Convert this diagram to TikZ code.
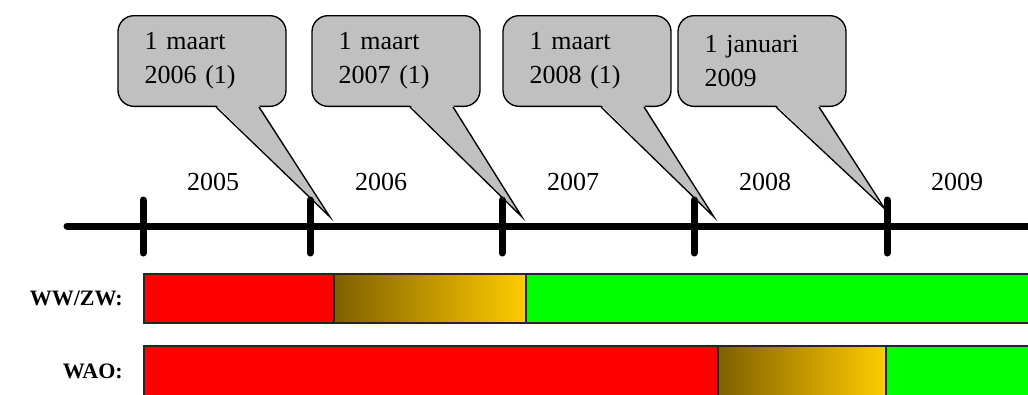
\documentclass[tikz,border=0pt]{standalone}
\usepackage{fontspec}
\setmainfont{Liberation Serif}
\usetikzlibrary{calc,positioning}

\definecolor{bubblegray}{HTML}{C0C0C0}
\definecolor{barred}{HTML}{FF0000}
\definecolor{bargreen}{HTML}{00FF00}
\definecolor{fadedark}{HTML}{7F6000}
\definecolor{fadelight}{HTML}{FFCC00}

\begin{document}
\begin{tikzpicture}[x=0.75pt,y=-0.75pt]

\tikzset{bubble/.style={fill=bubblegray,draw=black,line width=1pt,rounded corners=12pt,inner xsep=20pt,inner ysep=2pt,minimum height=68pt,text width=86pt,align=left,font=\fontsize{19.5}{25.5}\selectfont},
pointer/.style={draw=black,line width=1pt,line join=miter},
year/.style={font=\fontsize{19.5}{24}\selectfont},
rowlabel/.style={anchor=east,inner sep=0pt,font=\fontsize{16.5}{20}\selectfont\bfseries},
timeline/.style={line width=5.25pt,line cap=round},
barpart/.style={draw=black!85,line width=1.1pt}}

\useasboundingbox (0,0) rectangle (1028,394);
\clip (0,0) rectangle (1028,394);

% Callouts with dates
\node (b1) [bubble] at (202,61) {1 maart\\2006 (1)};
\coordinate (p1) at (330,217);
\fill[bubblegray] ($(b1.south)+(14,-2)$) -- (p1) -- ($(b1.south)+(57,-2)$) -- cycle;
\draw[pointer] ($(b1.south)+(14,0)$) -- (p1) -- ($(b1.south)+(57,0)$);

\node (b2) [bubble] at (396,61) {1 maart\\2007 (1)};
\coordinate (p2) at (522,217);
\fill[bubblegray] ($(b2.south)+(14,-2)$) -- (p2) -- ($(b2.south)+(57,-2)$) -- cycle;
\draw[pointer] ($(b2.south)+(14,0)$) -- (p2) -- ($(b2.south)+(57,0)$);

\node (b3) [bubble] at (587,61) {1 maart\\2008 (1)};
\coordinate (p3) at (714,217);
\fill[bubblegray] ($(b3.south)+(14,-2)$) -- (p3) -- ($(b3.south)+(57,-2)$) -- cycle;
\draw[pointer] ($(b3.south)+(14,0)$) -- (p3) -- ($(b3.south)+(57,0)$);

\node (b4) [bubble] at (762,61) {1 januari\\2009};
\coordinate (p4) at (885,209);
\fill[bubblegray] ($(b4.south)+(14,-2)$) -- (p4) -- ($(b4.south)+(57,-2)$) -- cycle;
\draw[pointer] ($(b4.south)+(14,0)$) -- (p4) -- ($(b4.south)+(57,0)$);

% Years
\node (y2005) [year] at (213,182) {2005};
\node (y2006) [year] at (381,182) {2006};
\node (y2007) [year] at (573,182) {2007};
\node (y2008) [year] at (765,182) {2008};
\node (y2009) [year] at (957,182) {2009};

% Time axis and ticks
\coordinate (t0) at (67,226);
\coordinate (tend) at (1045,226);
\draw[timeline] (t0) -- (tend);
\coordinate (t1) at (143,226);
\coordinate (t2) at (310,226);
\coordinate (t3) at (502,226);
\coordinate (t4) at (694,226);
\coordinate (t5) at (887,226);
\draw[timeline] ($(t1)+(0,-26)$) -- ($(t1)+(0,27)$);
\draw[timeline] ($(t2)+(0,-26)$) -- ($(t2)+(0,27)$);
\draw[timeline] ($(t3)+(0,-26)$) -- ($(t3)+(0,27)$);
\draw[timeline] ($(t4)+(0,-26)$) -- ($(t4)+(0,27)$);
\draw[timeline] ($(t5)+(0,-26)$) -- ($(t5)+(0,27)$);

% WW/ZW bar
\node (ww) [rowlabel] at (123,298) {WW/ZW:};
\draw[barpart,fill=barred] (144,274) rectangle (334,323);
\draw[barpart,left color=fadedark,right color=fadelight] (334,274) rectangle (526,323);
\draw[barpart,fill=bargreen] (526,274) rectangle (1040,323);

% WAO bar
\node (wao) [rowlabel] at (123,371) {WAO:};
\draw[barpart,fill=barred] (144,346) rectangle (718,400);
\draw[barpart,left color=fadedark,right color=fadelight] (718,346) rectangle (886,400);
\draw[barpart,fill=bargreen] (886,346) rectangle (1040,400);

\end{tikzpicture}
\end{document}
